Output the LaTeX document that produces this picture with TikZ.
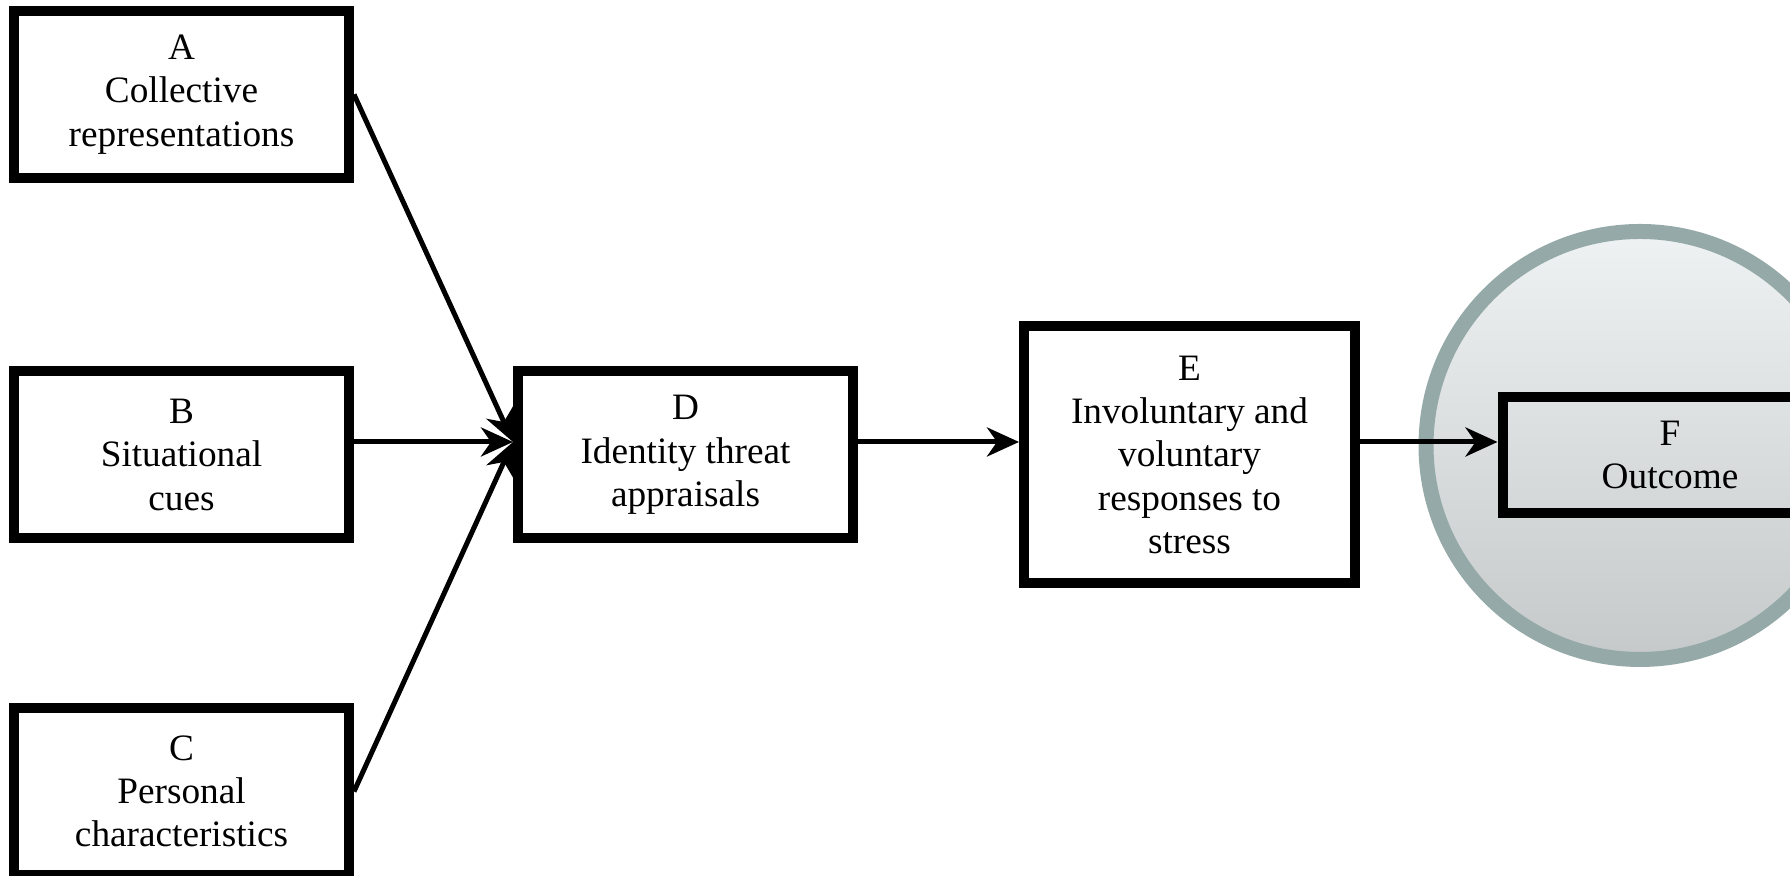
\documentclass[tikz,border=0pt]{standalone}
\usepackage{fontspec}
\setmainfont{Liberation Serif}
\usetikzlibrary{positioning,arrows.meta}

\begin{document}
\begin{tikzpicture}[>={Stealth[length=0.32cm,width=0.29cm,inset=0.1cm]},
  box/.style={draw,line width=0.1cm,minimum width=3.35cm,minimum height=1.67cm,
    align=center,inner sep=0pt,font=\fontsize{10.6}{12.3}\selectfont},
  link/.style={->,line width=0.05cm}]
  \path[use as bounding box,clip] (0,0) rectangle (17.9,8.76);
  \draw[line width=0.15cm,draw={rgb,255:red,149;green,169;blue,168},
    top color={rgb,255:red,239;green,242;blue,242},
    bottom color={rgb,255:red,197;green,201;blue,201}] (16.4,4.305) circle (2.14);
  \node[box] (A) at (1.815,7.815) {A\\Collective\\representations};
  \node[box] (B) at (1.815,4.21) {B\\Situational\\cues};
  \node[box] (C) at (1.815,0.845) {C\\Personal\\characteristics};
  \node[box] (D) at (6.855,4.21) {D\\Identity threat\\appraisals};
  \node[box,minimum width=3.31cm,minimum height=2.57cm] (E) at (11.895,4.21)
    {E\\Involuntary and\\voluntary\\responses to\\stress};
  \node[box,minimum height=1.16cm] (F) at (16.7,4.21) {F\\Outcome};
  \draw[link] (A.east) -- ([yshift=0.13cm]D.west);
  \draw[link] ([yshift=0.13cm]B.east) -- ([yshift=0.13cm]D.west);
  \draw[link] (C.east) -- ([yshift=0.13cm]D.west);
  \draw[link] ([yshift=0.13cm]D.east) -- ([yshift=0.13cm]E.west);
  \draw[link] ([yshift=0.13cm]E.east) -- ([yshift=0.13cm]F.west);
\end{tikzpicture}
\end{document}
